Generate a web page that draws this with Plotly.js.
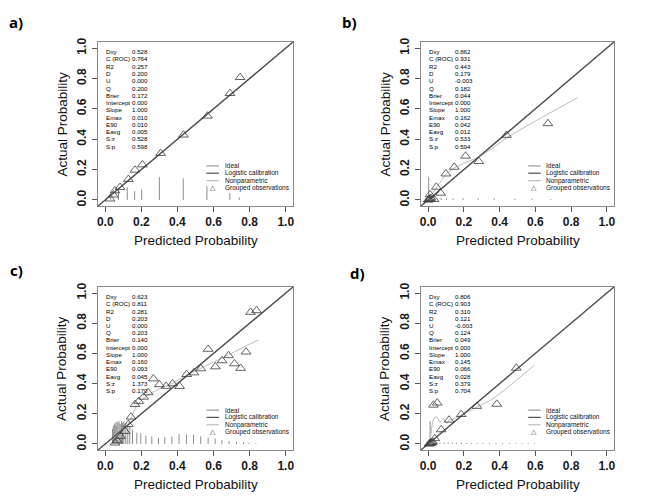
<!DOCTYPE html>
<html><head><meta charset="utf-8">
<script src="https://cdn.plot.ly/plotly-3.0.1.min.js"></script>
<style>html,body{margin:0;padding:0;background:#fff}#chart{width:669px;height:503px}</style>
</head><body><div id="chart"></div>
<script>
// ---------- data ----------
const tickVals = [0, 0.2, 0.4, 0.6, 0.8, 1.0];
const tickText = ['0.0', '0.2', '0.4', '0.6', '0.8', '1.0'];
const axisRange = [-0.04, 1.04];
const panelLabels = ['a)', 'b)', 'c)', 'd)'];
const xTitle = 'Predicted Probability';
const yTitle = 'Actual Probability';
const legendLabels = ['Ideal', 'Logistic calibration', 'Nonparametric', 'Grouped observations'];
const statNames = ['Dxy', 'C (ROC)', 'R2', 'D', 'U', 'Q', 'Brier', 'Intercept', 'Slope', 'Emax', 'E90', 'Eavg', 'S:z', 'S:p'];

const statsA = ['0.528', '0.764', '0.257', '0.200', '0.000', '0.200', '0.172', '0.000', '1.000', '0.010', '0.010', '0.005', '0.528', '0.598'];
const statsB = ['0.862', '0.931', '0.443', '0.179', '-0.003', '0.182', '0.044', '0.000', '1.000', '0.162', '0.042', '0.012', '0.533', '0.594'];
const statsC = ['0.623', '0.811', '0.281', '0.203', '0.000', '0.203', '0.140', '0.000', '1.000', '0.160', '0.093', '0.045', '1.373', '0.170'];
const statsD = ['0.806', '0.903', '0.310', '0.121', '-0.003', '0.124', '0.049', '0.000', '1.000', '0.145', '0.066', '0.028', '0.379', '0.704'];

// ideal / logistic calibration lines (intercept 0, slope 1)
const idealX = [-0.04, 1.04];
const idealY = [-0.04, 1.04];

// panel a
const obsAx = [0.027, 0.045, 0.054, 0.082, 0.128, 0.165, 0.206, 0.307, 0.433, 0.566, 0.691, 0.747];
const obsAy = [0.007, 0.033, 0.061, 0.083, 0.136, 0.197, 0.232, 0.307, 0.428, 0.553, 0.702, 0.807];
const npAx = [0.02, 0.05, 0.1, 0.16, 0.2, 0.3, 0.43, 0.56, 0.69, 0.75];
const npAy = [0.02, 0.052, 0.102, 0.165, 0.205, 0.305, 0.43, 0.556, 0.692, 0.752];
const spikeAx = [0.03, 0.073, 0.122, 0.163, 0.202, 0.30, 0.432, 0.563, 0.69, 0.742];
const spikeAh = [0.02, 0.066, 0.083, 0.058, 0.068, 0.15, 0.142, 0.09, 0.045, 0.016];

// panel b
const obsBx = [0.0, 0.005, 0.01, 0.015, 0.011, 0.033, 0.046, 0.07, 0.099, 0.146, 0.209, 0.283, 0.438, 0.67];
const obsBy = [0.0, 0.003, 0.006, 0.012, 0.035, 0.004, 0.085, 0.045, 0.172, 0.216, 0.289, 0.254, 0.426, 0.503];
const npBx = [0.0, 0.018, 0.05, 0.1, 0.15, 0.2, 0.28, 0.36, 0.44, 0.6, 0.835];
const npBy = [0.0, 0.032, 0.09, 0.172, 0.215, 0.24, 0.28, 0.34, 0.41, 0.52, 0.672];
const spikeBx = [0.003, 0.038, 0.072, 0.103, 0.14, 0.196, 0.28, 0.37, 0.485, 0.582, 0.687];
const spikeBh = [0.15, 0.012, 0.012, 0.011, 0.011, 0.01, 0.01, 0.009, 0.008, 0.007, 0.006];

// panel c
const obsCx = [0.054, 0.067, 0.085, 0.11, 0.128, 0.143, 0.165, 0.186, 0.212, 0.238, 0.267, 0.3, 0.337, 0.373, 0.412, 0.451, 0.491, 0.53, 0.57, 0.61, 0.647, 0.683, 0.716, 0.75, 0.78, 0.805, 0.838];
const obsCy = [0.007, 0.022, 0.051, 0.084, 0.129, 0.179, 0.262, 0.283, 0.311, 0.34, 0.432, 0.394, 0.383, 0.399, 0.382, 0.461, 0.472, 0.499, 0.628, 0.512, 0.552, 0.586, 0.532, 0.502, 0.61, 0.873, 0.884];
const npCx = [0.05, 0.08, 0.11, 0.14, 0.17, 0.2, 0.25, 0.3, 0.37, 0.45, 0.52, 0.6, 0.7, 0.78, 0.85];
const npCy = [0.0, 0.045, 0.095, 0.165, 0.245, 0.29, 0.335, 0.365, 0.4, 0.455, 0.495, 0.545, 0.6, 0.65, 0.69];
const spikeCx = [0.04, 0.045, 0.05, 0.055, 0.06, 0.065, 0.07, 0.077, 0.083, 0.09, 0.096, 0.103, 0.114, 0.125, 0.136, 0.151, 0.175, 0.197, 0.225, 0.258, 0.295, 0.33, 0.369, 0.409, 0.45, 0.489, 0.529, 0.57, 0.609, 0.646, 0.686, 0.727, 0.766, 0.797, 0.834];
const spikeCh = [0.1, 0.12, 0.13, 0.14, 0.12, 0.15, 0.14, 0.15, 0.13, 0.15, 0.14, 0.15, 0.14, 0.128, 0.115, 0.095, 0.075, 0.07, 0.055, 0.05, 0.04, 0.045, 0.048, 0.066, 0.062, 0.06, 0.05, 0.04, 0.035, 0.025, 0.02, 0.015, 0.012, 0.008, 0.005];

// panel d
const obsDx = [0.005, 0.01, 0.015, 0.02, 0.025, 0.037, 0.03, 0.051, 0.073, 0.117, 0.185, 0.273, 0.384, 0.493];
const obsDy = [0.0, 0.003, 0.006, 0.009, 0.013, 0.036, 0.258, 0.272, 0.095, 0.159, 0.196, 0.25, 0.264, 0.503];
const npDx = [0.005, 0.015, 0.025, 0.035, 0.048, 0.066, 0.085, 0.103, 0.12, 0.14, 0.165, 0.19, 0.23, 0.28, 0.35, 0.42, 0.5, 0.594];
const npDy = [0.0, 0.06, 0.15, 0.175, 0.18, 0.146, 0.168, 0.135, 0.16, 0.162, 0.18, 0.195, 0.215, 0.245, 0.29, 0.35, 0.43, 0.521];
const spikeDx = [0.011, 0.03, 0.048, 0.066, 0.09, 0.112, 0.136, 0.158, 0.186, 0.214, 0.241, 0.275, 0.306, 0.343, 0.38, 0.417, 0.455, 0.49, 0.525, 0.56, 0.594];
const spikeDh = [0.15, 0.01, 0.009, 0.009, 0.009, 0.008, 0.008, 0.008, 0.008, 0.007, 0.007, 0.007, 0.007, 0.006, 0.006, 0.006, 0.006, 0.005, 0.005, 0.005, 0.005];

// ---------- build ----------
const panels = [
  {obsX: obsAx, obsY: obsAy, npX: npAx, npY: npAy, spX: spikeAx, spH: spikeAh, stats: statsA, valOff: 0.138},
  {obsX: obsBx, obsY: obsBy, npX: npBx, npY: npBy, spX: spikeBx, spH: spikeBh, stats: statsB, valOff: 0.14},
  {obsX: obsCx, obsY: obsCy, npX: npCx, npY: npCy, spX: spikeCx, spH: spikeCh, stats: statsC, valOff: 0.138},
  {obsX: obsDx, obsY: obsDy, npX: npDx, npY: npDy, spX: spikeDx, spH: spikeDh, stats: statsD, valOff: 0.14}
];
// pixel boxes [left, right, top, bottom]
const W = 669, H = 503;
const boxes = [[98, 293, 42, 206], [421, 614, 42, 206], [98, 293, 287, 450], [421, 614, 287, 450]];
const labelPos = [[16, 22], [349, 22], [16, 270], [358, 273]];

const FONT = 'Liberation Sans, Arial, sans-serif';
const COL_IDEAL = '#9a9a9a', COL_LOG = '#505050', COL_NP = '#bdbdbd', COL_OBS = '#3c3c3c', COL_SPIKE = '#8c8c8c';

const traces = [];
const layout = {
  width: W, height: H, margin: {l: 0, r: 0, t: 0, b: 0},
  paper_bgcolor: '#fff', plot_bgcolor: '#fff', showlegend: false,
  font: {family: FONT, color: '#111'},
  annotations: [], shapes: []
};

panels.forEach((p, i) => {
  const n = i === 0 ? '' : String(i + 1);
  const xa = 'x' + n, ya = 'y' + n;
  const [l, r, t, b] = boxes[i];
  const axCommon = {
    range: axisRange, tickvals: tickVals, ticktext: tickText.map(s => '<b>' + s + '</b>'),
    showgrid: false, zeroline: false, showline: true, mirror: true,
    linecolor: '#8a8a8a', linewidth: 1, ticks: 'outside', ticklen: 5,
    tickcolor: '#555', tickwidth: 1, tickfont: {size: 12, family: FONT, color: '#1a1a1a'},
    fixedrange: true
  };
  layout['xaxis' + n] = Object.assign({}, axCommon, {domain: [l / W, r / W], anchor: ya});
  layout['yaxis' + n] = Object.assign({}, axCommon, {domain: [1 - b / H, 1 - t / H], anchor: xa, tickangle: -90, ticklabelstandoff: 1});

  // spikes
  const sx = [], sy = [];
  p.spX.forEach((x, k) => { sx.push(x, x, null); sy.push(0, p.spH[k], null); });
  traces.push({x: sx, y: sy, xaxis: xa, yaxis: ya, mode: 'lines', line: {color: COL_SPIKE, width: 1}, hoverinfo: 'skip'});
  // ideal
  traces.push({x: idealX, y: idealY, xaxis: xa, yaxis: ya, mode: 'lines', line: {color: COL_IDEAL, width: 1.2}, name: legendLabels[0]});
  // nonparametric
  traces.push({x: p.npX, y: p.npY, xaxis: xa, yaxis: ya, mode: 'lines', line: {color: COL_NP, width: 1}, name: legendLabels[2]});
  // logistic calibration
  traces.push({x: idealX, y: idealY, xaxis: xa, yaxis: ya, mode: 'lines', line: {color: COL_LOG, width: 1.3}, name: legendLabels[1]});
  // grouped observations
  traces.push({x: p.obsX, y: p.obsY, xaxis: xa, yaxis: ya, mode: 'markers', name: legendLabels[3],
    marker: {symbol: 'triangle-up-open', size: 8.5, color: COL_OBS, line: {width: 0.8, color: COL_OBS}}});

  // stats text
  statNames.forEach((s, k) => {
    const yy = 0.976 - k * 0.0478;
    layout.annotations.push({xref: xa, yref: ya, x: -0.005, y: yy, text: s, showarrow: false, xanchor: 'left', yanchor: 'middle', font: {size: 6.2, family: FONT, color: '#000'}});
    layout.annotations.push({xref: xa, yref: ya, x: p.valOff, y: yy, text: p.stats[k], showarrow: false, xanchor: 'left', yanchor: 'middle', font: {size: 6.2, family: FONT, color: '#000'}});
  });

  // legend
  const rows = [0.224, 0.176, 0.127, 0.079];
  const cols = [COL_IDEAL, COL_LOG, COL_NP];
  cols.forEach((c, k) => {
    layout.shapes.push({type: 'line', xref: xa, yref: ya, x0: 0.56, x1: 0.63, y0: rows[k], y1: rows[k], line: {color: c, width: 1.2}});
  });
  layout.annotations.push({xref: xa, yref: ya, x: 0.595, y: rows[3], text: '△', showarrow: false, xanchor: 'center', yanchor: 'middle', font: {size: 7, family: 'DejaVu Sans', color: COL_OBS}});
  legendLabels.forEach((s, k) => {
    layout.annotations.push({xref: xa, yref: ya, x: 0.65, y: rows[k], text: s, showarrow: false, xanchor: 'left', yanchor: 'middle', font: {size: 6.5, family: FONT, color: '#111'}});
  });

  // axis titles
  const x0px = l + (r - l) * 0.04 / 1.08, x1px = r - (r - l) * 0.04 / 1.08;
  const y1px = t + (b - t) * 0.04 / 1.08, y0px = b - (b - t) * 0.04 / 1.08;
  layout.annotations.push({xref: 'paper', yref: 'paper', x: (x0px + x1px) / 2 / W, y: 1 - (b + 34) / H, text: xTitle, showarrow: false, xanchor: 'center', yanchor: 'middle', font: {size: 13.5, family: FONT, color: '#111'}});
  layout.annotations.push({xref: 'paper', yref: 'paper', x: (l - 36.5) / W, y: 1 - (y0px + y1px) / 2 / H, text: yTitle, textangle: -90, showarrow: false, xanchor: 'center', yanchor: 'middle', font: {size: 13.5, family: FONT, color: '#111'}});
  // panel label
  layout.annotations.push({xref: 'paper', yref: 'paper', x: labelPos[i][0] / W, y: 1 - labelPos[i][1] / H, text: '<b>' + panelLabels[i] + '</b>', showarrow: false, xanchor: 'center', yanchor: 'middle', font: {size: 15, family: 'Open Sans, Liberation Sans, sans-serif', color: '#000'}});
});

Plotly.newPlot('chart', traces, layout, {staticPlot: true, displayModeBar: false});
</script>
</body></html>
